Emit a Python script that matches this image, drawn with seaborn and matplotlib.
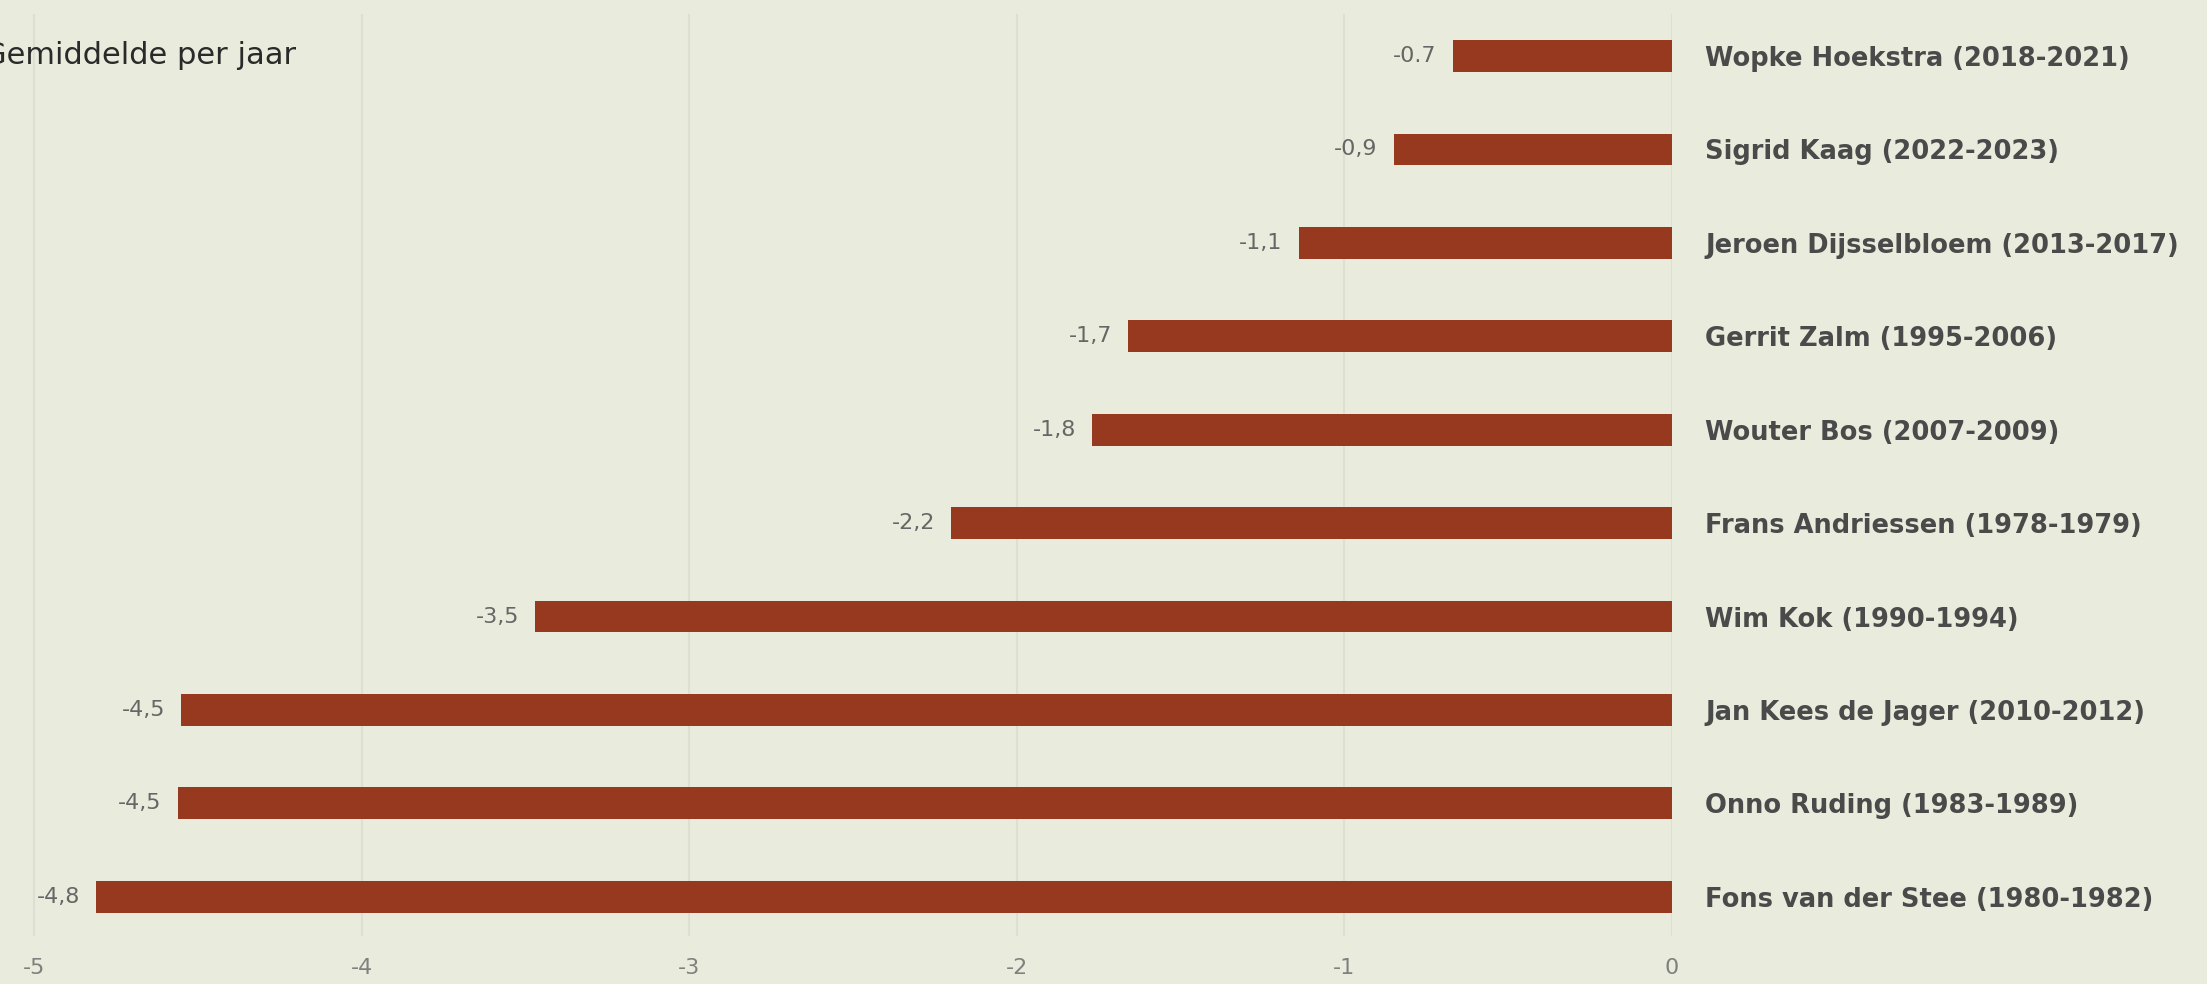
import matplotlib
matplotlib.use("Agg")
from matplotlib import pyplot as plt
import pandas as pd
import seaborn as sns

ministers = [
    "Wopke Hoekstra (2018-2021)",
    "Sigrid Kaag (2022-2023)",
    "Jeroen Dijsselbloem (2013-2017)",
    "Gerrit Zalm (1995-2006)",
    "Wouter Bos (2007-2009)",
    "Frans Andriessen (1978-1979)",
    "Wim Kok (1990-1994)",
    "Jan Kees de Jager (2010-2012)",
    "Onno Ruding (1983-1989)",
    "Fons van der Stee (1980-1982)",
]
gemiddelde = [-0.67, -0.85, -1.14, -1.66, -1.77, -2.2, -3.47, -4.55, -4.56, -4.81]
value_labels = ["-0.7", "-0,9", "-1,1", "-1,7", "-1,8", "-2,2", "-3,5", "-4,5", "-4,5", "-4,8"]
x_ticks = [-5, -4, -3, -2, -1, 0]

bg = "#e9ecdc"
bar_color = "#96391e"

df = pd.DataFrame({"minister": ministers, "waarde": gemiddelde})

sns.set_theme(style="white")
plt.rcParams["font.family"] = ["DejaVu Sans"]

fig = plt.figure(figsize=(22.07, 9.84), dpi=100, facecolor=bg)
ax = fig.add_axes([0, 0.0488, 0.7576, 0.937])
ax.set_facecolor(bg)

sns.barplot(data=df, x="waarde", y="minister", orient="h", color=bar_color,
            width=0.34, saturation=1, linewidth=0, ax=ax, zorder=3)

ax.set_xlim(-5.104, 0)
ax.set_ylim(9.42, -0.45)
ax.set_xticks(x_ticks)
ax.set_xticklabels([str(t) for t in x_ticks])
ax.grid(axis="x", color="#dcdfd2", linewidth=1.5, zorder=0)
ax.grid(axis="y", visible=False)
for s in ax.spines.values():
    s.set_visible(False)

ax.set_xlabel("")
ax.set_ylabel("")
ax.yaxis.tick_right()
ax.tick_params(axis="y", length=0, pad=24, labelsize=18.5, labelcolor="#4a4a4a")
for lab in ax.get_yticklabels():
    lab.set_fontweight("bold")
ax.tick_params(axis="x", length=0, pad=16, labelsize=16, labelcolor="#808080")

for i, (v, t) in enumerate(zip(gemiddelde, value_labels)):
    ax.text(v - 0.05, i, t, ha="right", va="center", fontsize=16,
            color="#666666")

# title sits partly outside the left edge, as in the original
fig.text(296 / 2207, 1 - 56 / 984, "Gemiddelde per jaar", ha="right", va="center",
         fontsize=22, color="#2a2a2a")

fig.savefig("out.png", dpi=100, facecolor=bg)
